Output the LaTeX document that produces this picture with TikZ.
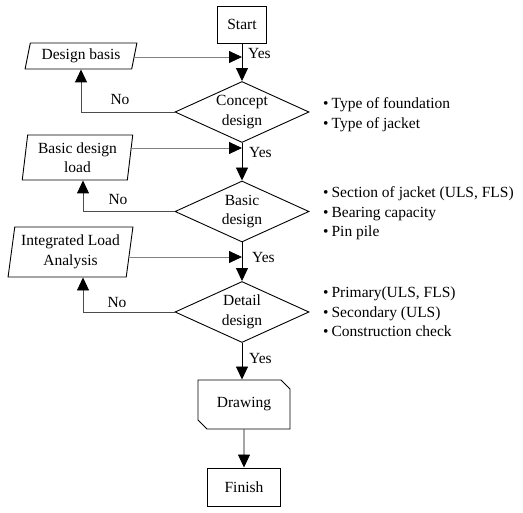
\documentclass[tikz,border=0pt]{standalone}
\usepackage{fontspec}
\setmainfont{Liberation Serif}
\usetikzlibrary{shapes.geometric,shapes.misc,arrows.meta}
\begin{document}
\begin{tikzpicture}[x=1pt,y=-1pt,
  every node/.style={font=\fontsize{15.5}{19.5}\selectfont, inner sep=0pt},
  term/.style={draw, line width=0.9pt, minimum height=37pt},
  dia/.style={draw, diamond, line width=0.9pt, minimum width=134pt, minimum height=61pt},
  para/.style={draw, trapezium, trapezium stretches=true, line width=0.9pt, align=center},
  tipA/.style={-{Triangle[length=13pt,width=12pt,color=black]}},
  flow/.style={draw=black, line width=0.9pt, tipA},
  inp/.style={draw=black!50, line width=0.9pt, tipA},
  nope/.style={draw=black!70, line width=0.9pt, tipA},
  lbl/.style={anchor=west},
  bul/.style={anchor=west, align=left}]
\useasboundingbox (0,0) rectangle (523,513);
% main flow
\node[term, minimum width=49pt] (start) at (242,24.5) {Start};
\node[dia] (concept) at (242,112) {};
\node[align=center] (conceptT) at (concept) {Concept\\design};
\node[dia] (basic) at (242,211.5) {};
\node[align=center] (basicT) at (basic) {Basic\\design};
\node[dia] (detail) at (242,312) {};
\node[align=center] (detailT) at (detail) {Detail\\design};
\node[draw, chamfered rectangle, chamfered rectangle corners={north east,south west},
      chamfered rectangle xsep=4.5pt, chamfered rectangle ysep=4.5pt,
      minimum width=92pt, minimum height=49pt, line width=0.9pt] (drawing) at (244,404.5) {Drawing};
\node[term, minimum width=73pt, minimum height=38pt] (finish) at (244,487) {Finish};
% inputs
\node[para, trapezium left angle=74, trapezium right angle=106,
      minimum width=112pt, minimum height=26pt] (dbasis) at (81,56) {Design basis};
\node[para, trapezium left angle=82, trapezium right angle=98,
      minimum width=111pt, minimum height=45pt] (bload) at (77.5,157.5) {Basic design\\load};
\node[para, trapezium left angle=80, trapezium right angle=100,
      minimum width=125pt, minimum height=50pt] (integ) at (70.5,252) {Integrated Load\\Analysis};
% vertical connectors
\draw[flow] (start) -- (concept);
\draw[flow] (concept) -- (basic);
\draw[flow] (basic) -- (detail);
\draw[flow] (detail.south) -- (detail.south |- drawing.north);
\draw[flow] (drawing) -- (finish);
% input connectors
\coordinate (in1) at ([yshift=-1pt]dbasis.east);
\draw[inp] (in1) -- (in1 -| start.south);
\coordinate (in2) at ([yshift=9.5pt]bload.east);
\draw[inp] (in2) -- (in2 -| concept.south);
\coordinate (in3) at ([yshift=-5pt]integ.east);
\draw[inp] (in3) -- (in3 -| basic.south);
% no connectors
\draw[nope] (concept.west) -| (dbasis.south);
\draw[nope] (basic.west) -| ([xshift=5.5pt]bload.south);
\draw[nope] (detail.west) -| ([xshift=12.5pt]integ.south);
% labels
\node[lbl] (y1) at (248,54) {Yes};
\node[lbl] (y2) at (249,153) {Yes};
\node[lbl] (y3) at (252,258) {Yes};
\node[lbl] (y4) at (249,359) {Yes};
\node (n1) at (120,100) {No};
\node (n2) at (118,200) {No};
\node (n3) at (117,303) {No};
% bullet lists
\node[bul] (b1) at (323,114.5) {\textbullet\hspace{3pt}Type of foundation\\\textbullet\hspace{3pt}Type of jacket};
\node[bul] (b2) at (323,213.5) {\textbullet\hspace{3pt}Section of jacket (ULS, FLS)\\\textbullet\hspace{3pt}Bearing capacity\\\textbullet\hspace{3pt}Pin pile};
\node[bul] (b3) at (323,312) {\textbullet\hspace{3pt}Primary(ULS, FLS)\\\textbullet\hspace{3pt}Secondary (ULS)\\\textbullet\hspace{3pt}Construction check};
\end{tikzpicture}
\end{document}
